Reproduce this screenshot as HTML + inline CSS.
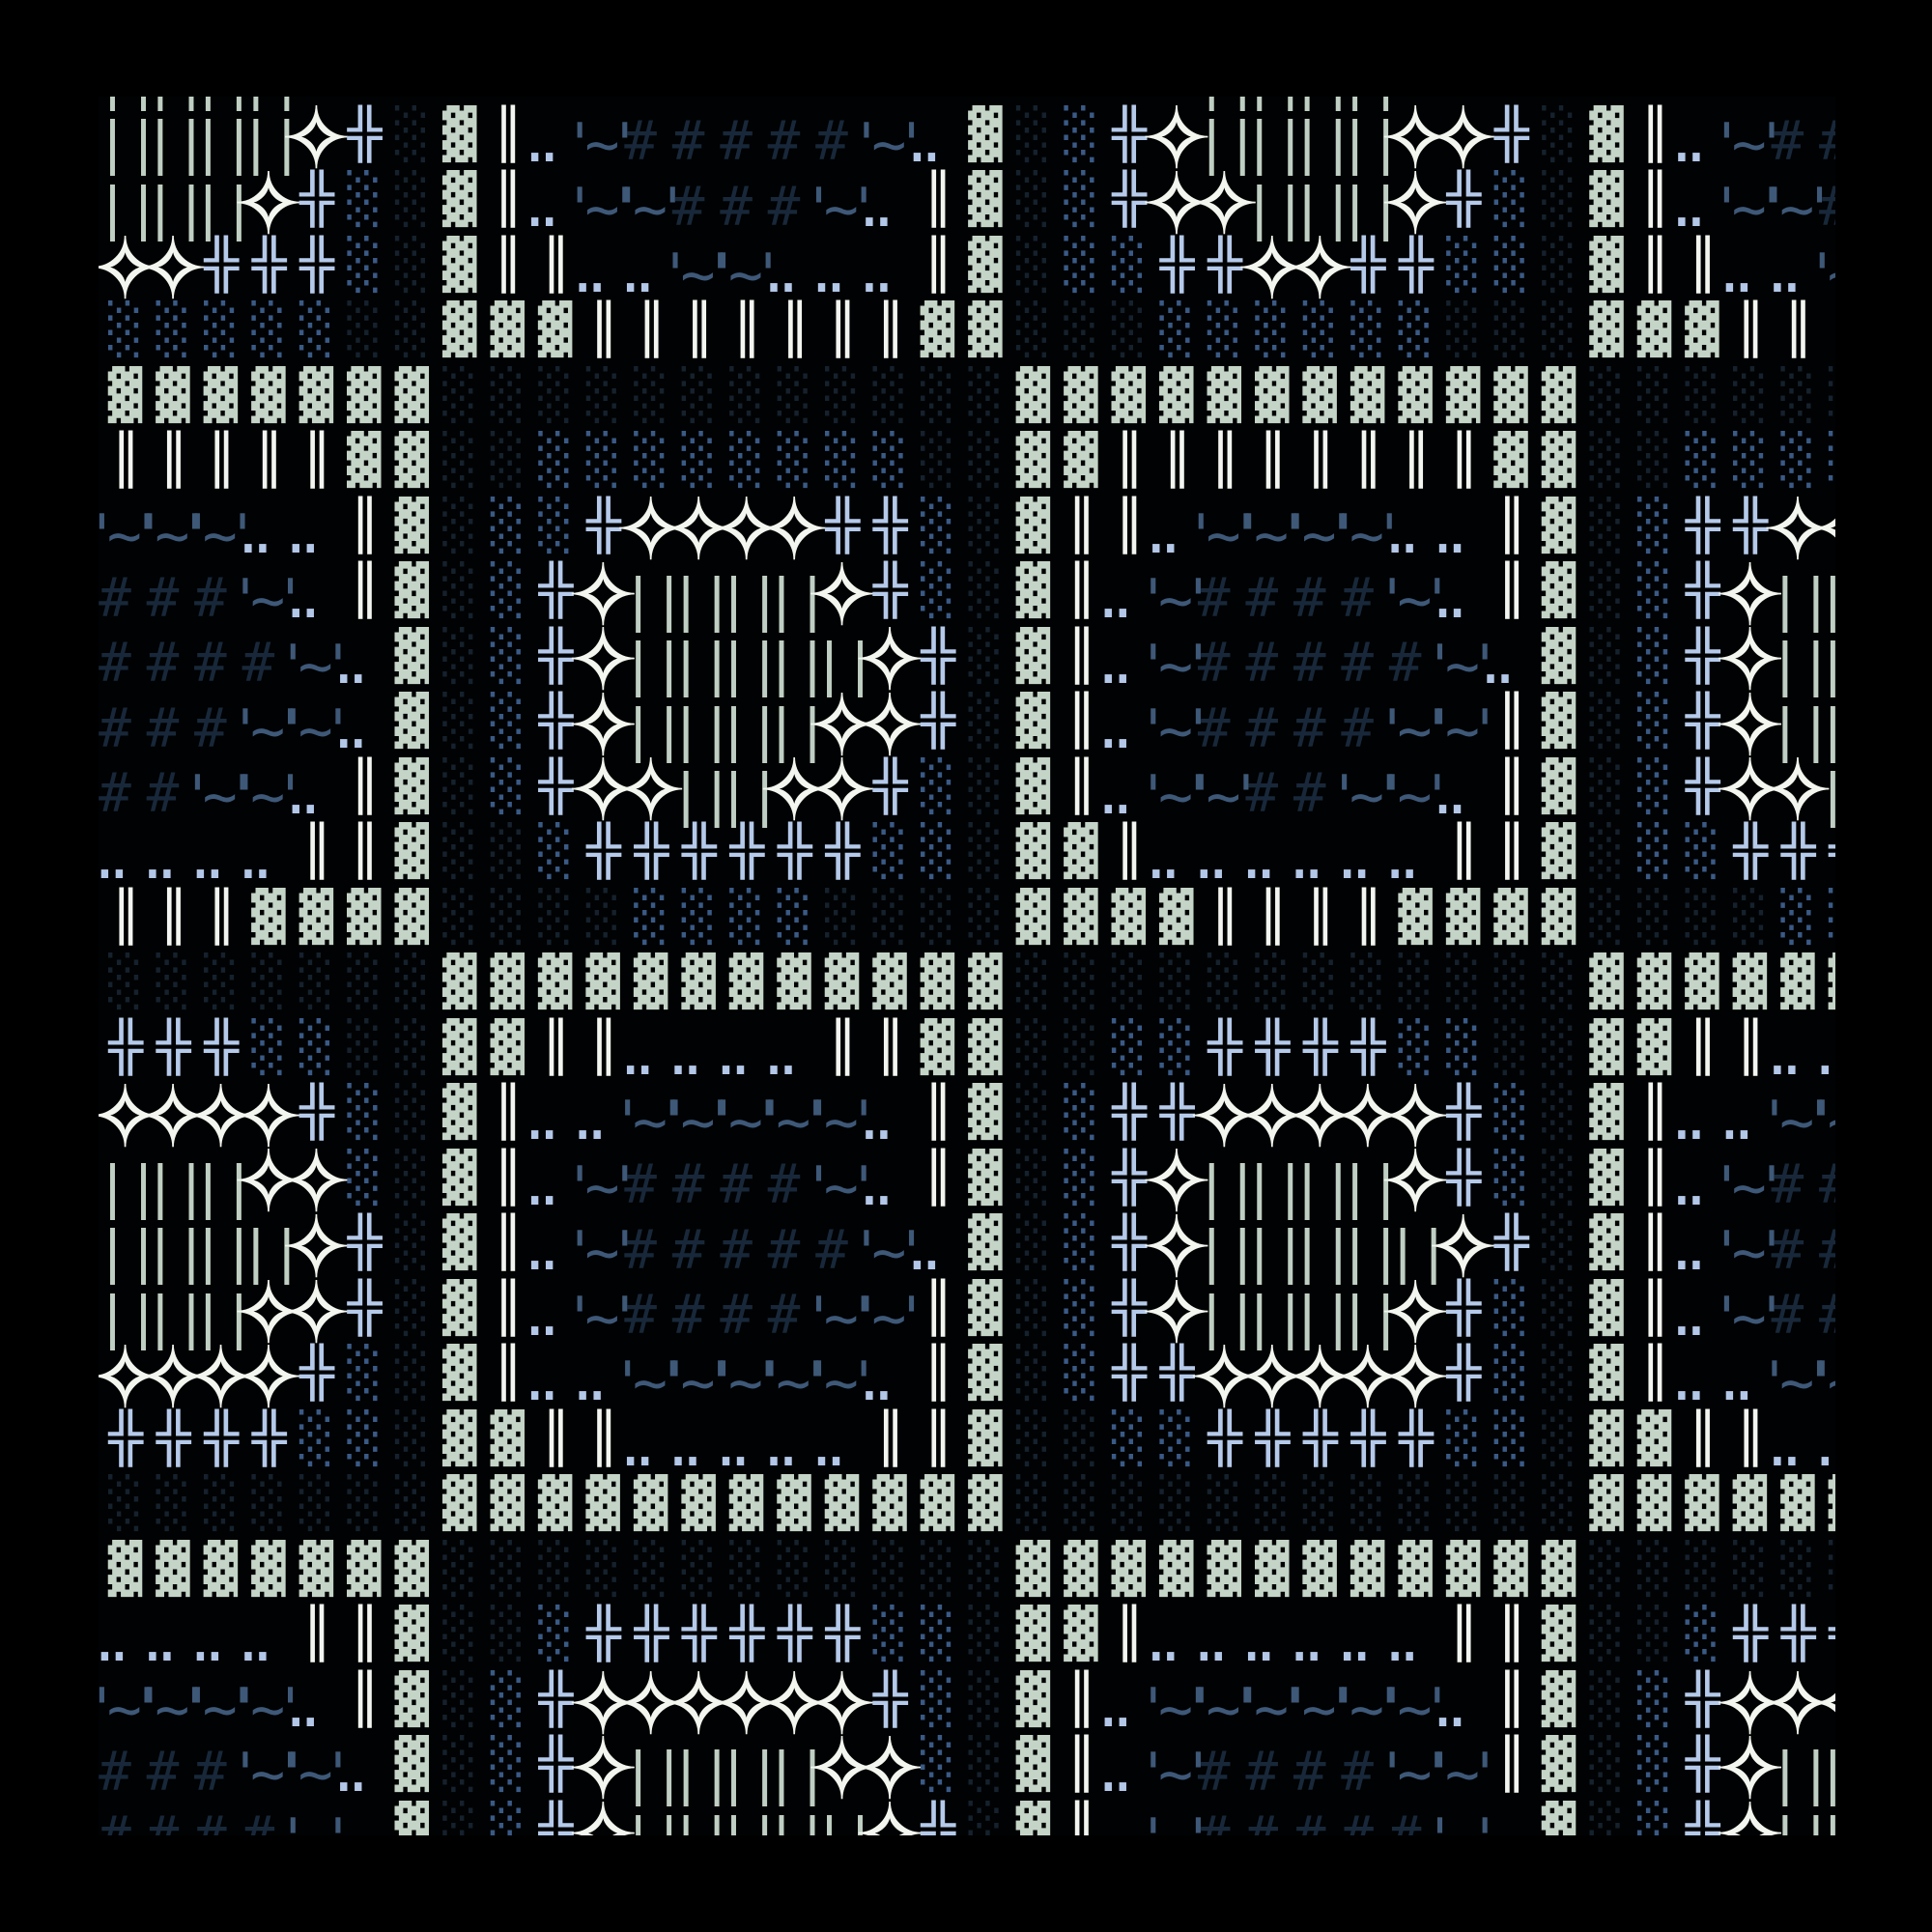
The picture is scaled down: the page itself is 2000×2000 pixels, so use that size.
<!DOCTYPE html>
<html><head><meta charset="utf-8"><style>
html,body{margin:0;padding:0;background:#000;}
body{width:2000px;height:2000px;overflow:hidden;position:relative;}
#w{position:absolute;left:102px;top:100px;width:1798px;height:1800px;overflow:hidden;background:#010203;}
#g{position:absolute;left:0;top:-59.12px;width:1900px;}
.r{height:67.52px;white-space:nowrap;font-size:0;line-height:0;}
.r b{display:inline-block;position:relative;width:49.48px;height:67.52px;vertical-align:top;font-weight:normal;font-family:"DejaVu Sans Mono","DejaVu Sans",monospace;white-space:pre;text-align:left;}
.S,.D,.P,.O,.K{font-size:59px;line-height:59px;top:4.2px;transform:scaleY(0.86);transform-origin:0 0;}
.S{left:9.7px;color:#c4d4c7;}
.D{left:10.5px;color:#f2f5f0;}
.P{left:10.3px;color:#b5caea;}
.O{left:10px;color:#3a5a86;}
.K{left:10px;color:#15212d;}
.I{font-size:59px;line-height:59px;left:-3.3px;top:9.9px;letter-spacing:-3.5px;color:#bfcfc3;}
.R{font-size:86px;line-height:86px;left:-8.5px;top:-7.2px;color:#f3f6ef;-webkit-text-stroke:1.6px #f3f6ef;text-align:center!important;font-family:"DejaVu Sans","DejaVu Sans Mono",sans-serif!important;}
.H{font-size:56px;line-height:56px;left:0.1px;top:10.6px;color:#18283a;}
.T{font-size:60px;line-height:60px;left:-14.6px;top:11.2px;letter-spacing:-12.8px;color:#3e5878;}
.Q{font-size:60px;line-height:60px;left:-11.6px;top:8.2px;letter-spacing:-21.1px;color:#b3c7e8;}
.E{}
</style></head><body>
<div id="w"><div id="g">
<div class="r"><b class=I>||</b><b class=I>||</b><b class=I>||</b><b class=I>||</b><b class=E></b><b class=E></b><b class=E></b><b class=E></b><b class=E></b><b class=Q>..</b><b class=E></b><b class=E></b><b class=E></b><b class=E></b><b class=E></b><b class=E></b><b class=E></b><b class=Q>..</b><b class=E></b><b class=E></b><b class=E></b><b class=E></b><b class=E></b><b class=I>||</b><b class=I>||</b><b class=I>||</b><b class=I>||</b><b class=E></b><b class=E></b><b class=E></b><b class=E></b><b class=E></b><b class=E></b><b class=Q>..</b><b class=E></b><b class=E></b><b class=E></b></div>
<div class="r"><b class=I>||</b><b class=I>||</b><b class=I>||</b><b class=I>||</b><b class=R>✧</b><b class=P>╬</b><b class=K>░</b><b class=S>▓</b><b class=D>║</b><b class=Q>..</b><b class=T>'~'</b><b class=H>#</b><b class=H>#</b><b class=H>#</b><b class=H>#</b><b class=H>#</b><b class=T>'~'</b><b class=Q>..</b><b class=S>▓</b><b class=K>░</b><b class=O>░</b><b class=P>╬</b><b class=R>✧</b><b class=I>||</b><b class=I>||</b><b class=I>||</b><b class=I>||</b><b class=R>✧</b><b class=R>✧</b><b class=P>╬</b><b class=K>░</b><b class=S>▓</b><b class=D>║</b><b class=Q>..</b><b class=T>'~'</b><b class=H>#</b><b class=H>#</b></div>
<div class="r"><b class=I>||</b><b class=I>||</b><b class=I>||</b><b class=R>✧</b><b class=P>╬</b><b class=O>░</b><b class=K>░</b><b class=S>▓</b><b class=D>║</b><b class=Q>..</b><b class=T>'~'</b><b class=T>'~'</b><b class=H>#</b><b class=H>#</b><b class=H>#</b><b class=T>'~'</b><b class=Q>..</b><b class=D>║</b><b class=S>▓</b><b class=K>░</b><b class=O>░</b><b class=P>╬</b><b class=R>✧</b><b class=R>✧</b><b class=I>||</b><b class=I>||</b><b class=I>||</b><b class=R>✧</b><b class=P>╬</b><b class=O>░</b><b class=K>░</b><b class=S>▓</b><b class=D>║</b><b class=Q>..</b><b class=T>'~'</b><b class=T>'~'</b><b class=H>#</b></div>
<div class="r"><b class=R>✧</b><b class=R>✧</b><b class=P>╬</b><b class=P>╬</b><b class=P>╬</b><b class=O>░</b><b class=K>░</b><b class=S>▓</b><b class=D>║</b><b class=D>║</b><b class=Q>..</b><b class=Q>..</b><b class=T>'~'</b><b class=T>'~'</b><b class=Q>..</b><b class=Q>..</b><b class=Q>..</b><b class=D>║</b><b class=S>▓</b><b class=K>░</b><b class=O>░</b><b class=O>░</b><b class=P>╬</b><b class=P>╬</b><b class=R>✧</b><b class=R>✧</b><b class=P>╬</b><b class=P>╬</b><b class=O>░</b><b class=O>░</b><b class=K>░</b><b class=S>▓</b><b class=D>║</b><b class=D>║</b><b class=Q>..</b><b class=Q>..</b><b class=T>'~'</b></div>
<div class="r"><b class=O>░</b><b class=O>░</b><b class=O>░</b><b class=O>░</b><b class=O>░</b><b class=K>░</b><b class=K>░</b><b class=S>▓</b><b class=S>▓</b><b class=S>▓</b><b class=D>║</b><b class=D>║</b><b class=D>║</b><b class=D>║</b><b class=D>║</b><b class=D>║</b><b class=D>║</b><b class=S>▓</b><b class=S>▓</b><b class=K>░</b><b class=K>░</b><b class=K>░</b><b class=O>░</b><b class=O>░</b><b class=O>░</b><b class=O>░</b><b class=O>░</b><b class=O>░</b><b class=K>░</b><b class=K>░</b><b class=K>░</b><b class=S>▓</b><b class=S>▓</b><b class=S>▓</b><b class=D>║</b><b class=D>║</b><b class=E></b></div>
<div class="r"><b class=S>▓</b><b class=S>▓</b><b class=S>▓</b><b class=S>▓</b><b class=S>▓</b><b class=S>▓</b><b class=S>▓</b><b class=K>░</b><b class=K>░</b><b class=K>░</b><b class=K>░</b><b class=K>░</b><b class=K>░</b><b class=K>░</b><b class=K>░</b><b class=K>░</b><b class=K>░</b><b class=K>░</b><b class=K>░</b><b class=S>▓</b><b class=S>▓</b><b class=S>▓</b><b class=S>▓</b><b class=S>▓</b><b class=S>▓</b><b class=S>▓</b><b class=S>▓</b><b class=S>▓</b><b class=S>▓</b><b class=S>▓</b><b class=S>▓</b><b class=K>░</b><b class=K>░</b><b class=K>░</b><b class=K>░</b><b class=K>░</b><b class=K>░</b></div>
<div class="r"><b class=D>║</b><b class=D>║</b><b class=D>║</b><b class=D>║</b><b class=D>║</b><b class=S>▓</b><b class=S>▓</b><b class=K>░</b><b class=K>░</b><b class=O>░</b><b class=O>░</b><b class=O>░</b><b class=O>░</b><b class=O>░</b><b class=O>░</b><b class=O>░</b><b class=O>░</b><b class=K>░</b><b class=K>░</b><b class=S>▓</b><b class=S>▓</b><b class=D>║</b><b class=D>║</b><b class=D>║</b><b class=D>║</b><b class=D>║</b><b class=D>║</b><b class=D>║</b><b class=D>║</b><b class=S>▓</b><b class=S>▓</b><b class=K>░</b><b class=K>░</b><b class=O>░</b><b class=O>░</b><b class=O>░</b><b class=O>░</b></div>
<div class="r"><b class=T>'~'</b><b class=T>'~'</b><b class=T>'~'</b><b class=Q>..</b><b class=Q>..</b><b class=D>║</b><b class=S>▓</b><b class=K>░</b><b class=O>░</b><b class=O>░</b><b class=P>╬</b><b class=R>✧</b><b class=R>✧</b><b class=R>✧</b><b class=R>✧</b><b class=P>╬</b><b class=P>╬</b><b class=O>░</b><b class=K>░</b><b class=S>▓</b><b class=D>║</b><b class=D>║</b><b class=Q>..</b><b class=T>'~'</b><b class=T>'~'</b><b class=T>'~'</b><b class=T>'~'</b><b class=Q>..</b><b class=Q>..</b><b class=D>║</b><b class=S>▓</b><b class=K>░</b><b class=O>░</b><b class=P>╬</b><b class=P>╬</b><b class=R>✧</b><b class=R>✧</b></div>
<div class="r"><b class=H>#</b><b class=H>#</b><b class=H>#</b><b class=T>'~'</b><b class=Q>..</b><b class=D>║</b><b class=S>▓</b><b class=K>░</b><b class=O>░</b><b class=P>╬</b><b class=R>✧</b><b class=I>||</b><b class=I>||</b><b class=I>||</b><b class=I>||</b><b class=R>✧</b><b class=P>╬</b><b class=O>░</b><b class=K>░</b><b class=S>▓</b><b class=D>║</b><b class=Q>..</b><b class=T>'~'</b><b class=H>#</b><b class=H>#</b><b class=H>#</b><b class=H>#</b><b class=T>'~'</b><b class=Q>..</b><b class=D>║</b><b class=S>▓</b><b class=K>░</b><b class=O>░</b><b class=P>╬</b><b class=R>✧</b><b class=I>||</b><b class=I>||</b></div>
<div class="r"><b class=H>#</b><b class=H>#</b><b class=H>#</b><b class=H>#</b><b class=T>'~'</b><b class=Q>..</b><b class=S>▓</b><b class=K>░</b><b class=O>░</b><b class=P>╬</b><b class=R>✧</b><b class=I>||</b><b class=I>||</b><b class=I>||</b><b class=I>||</b><b class=I>||</b><b class=R>✧</b><b class=P>╬</b><b class=K>░</b><b class=S>▓</b><b class=D>║</b><b class=Q>..</b><b class=T>'~'</b><b class=H>#</b><b class=H>#</b><b class=H>#</b><b class=H>#</b><b class=H>#</b><b class=T>'~'</b><b class=Q>..</b><b class=S>▓</b><b class=K>░</b><b class=O>░</b><b class=P>╬</b><b class=R>✧</b><b class=I>||</b><b class=I>||</b></div>
<div class="r"><b class=H>#</b><b class=H>#</b><b class=H>#</b><b class=T>'~'</b><b class=T>'~'</b><b class=Q>..</b><b class=S>▓</b><b class=K>░</b><b class=O>░</b><b class=P>╬</b><b class=R>✧</b><b class=I>||</b><b class=I>||</b><b class=I>||</b><b class=I>||</b><b class=R>✧</b><b class=R>✧</b><b class=P>╬</b><b class=K>░</b><b class=S>▓</b><b class=D>║</b><b class=Q>..</b><b class=T>'~'</b><b class=H>#</b><b class=H>#</b><b class=H>#</b><b class=H>#</b><b class=T>'~'</b><b class=T>'~'</b><b class=D>║</b><b class=S>▓</b><b class=K>░</b><b class=O>░</b><b class=P>╬</b><b class=R>✧</b><b class=I>||</b><b class=I>||</b></div>
<div class="r"><b class=H>#</b><b class=H>#</b><b class=T>'~'</b><b class=T>'~'</b><b class=Q>..</b><b class=D>║</b><b class=S>▓</b><b class=K>░</b><b class=O>░</b><b class=P>╬</b><b class=R>✧</b><b class=R>✧</b><b class=I>||</b><b class=I>||</b><b class=R>✧</b><b class=R>✧</b><b class=P>╬</b><b class=O>░</b><b class=K>░</b><b class=S>▓</b><b class=D>║</b><b class=Q>..</b><b class=T>'~'</b><b class=T>'~'</b><b class=H>#</b><b class=H>#</b><b class=T>'~'</b><b class=T>'~'</b><b class=Q>..</b><b class=D>║</b><b class=S>▓</b><b class=K>░</b><b class=O>░</b><b class=P>╬</b><b class=R>✧</b><b class=R>✧</b><b class=I>||</b></div>
<div class="r"><b class=Q>..</b><b class=Q>..</b><b class=Q>..</b><b class=Q>..</b><b class=D>║</b><b class=D>║</b><b class=S>▓</b><b class=K>░</b><b class=K>░</b><b class=O>░</b><b class=P>╬</b><b class=P>╬</b><b class=P>╬</b><b class=P>╬</b><b class=P>╬</b><b class=P>╬</b><b class=O>░</b><b class=O>░</b><b class=K>░</b><b class=S>▓</b><b class=S>▓</b><b class=D>║</b><b class=Q>..</b><b class=Q>..</b><b class=Q>..</b><b class=Q>..</b><b class=Q>..</b><b class=Q>..</b><b class=D>║</b><b class=D>║</b><b class=S>▓</b><b class=K>░</b><b class=O>░</b><b class=O>░</b><b class=P>╬</b><b class=P>╬</b><b class=P>╬</b></div>
<div class="r"><b class=D>║</b><b class=D>║</b><b class=D>║</b><b class=S>▓</b><b class=S>▓</b><b class=S>▓</b><b class=S>▓</b><b class=K>░</b><b class=K>░</b><b class=K>░</b><b class=K>░</b><b class=O>░</b><b class=O>░</b><b class=O>░</b><b class=O>░</b><b class=K>░</b><b class=K>░</b><b class=K>░</b><b class=K>░</b><b class=S>▓</b><b class=S>▓</b><b class=S>▓</b><b class=S>▓</b><b class=D>║</b><b class=D>║</b><b class=D>║</b><b class=D>║</b><b class=S>▓</b><b class=S>▓</b><b class=S>▓</b><b class=S>▓</b><b class=K>░</b><b class=K>░</b><b class=K>░</b><b class=K>░</b><b class=O>░</b><b class=O>░</b></div>
<div class="r"><b class=K>░</b><b class=K>░</b><b class=K>░</b><b class=K>░</b><b class=K>░</b><b class=K>░</b><b class=K>░</b><b class=S>▓</b><b class=S>▓</b><b class=S>▓</b><b class=S>▓</b><b class=S>▓</b><b class=S>▓</b><b class=S>▓</b><b class=S>▓</b><b class=S>▓</b><b class=S>▓</b><b class=S>▓</b><b class=S>▓</b><b class=K>░</b><b class=K>░</b><b class=K>░</b><b class=K>░</b><b class=K>░</b><b class=K>░</b><b class=K>░</b><b class=K>░</b><b class=K>░</b><b class=K>░</b><b class=K>░</b><b class=K>░</b><b class=S>▓</b><b class=S>▓</b><b class=S>▓</b><b class=S>▓</b><b class=S>▓</b><b class=S>▓</b></div>
<div class="r"><b class=P>╬</b><b class=P>╬</b><b class=P>╬</b><b class=O>░</b><b class=O>░</b><b class=K>░</b><b class=K>░</b><b class=S>▓</b><b class=S>▓</b><b class=D>║</b><b class=D>║</b><b class=Q>..</b><b class=Q>..</b><b class=Q>..</b><b class=Q>..</b><b class=D>║</b><b class=D>║</b><b class=S>▓</b><b class=S>▓</b><b class=K>░</b><b class=K>░</b><b class=O>░</b><b class=O>░</b><b class=P>╬</b><b class=P>╬</b><b class=P>╬</b><b class=P>╬</b><b class=O>░</b><b class=O>░</b><b class=K>░</b><b class=K>░</b><b class=S>▓</b><b class=S>▓</b><b class=D>║</b><b class=D>║</b><b class=Q>..</b><b class=Q>..</b></div>
<div class="r"><b class=R>✧</b><b class=R>✧</b><b class=R>✧</b><b class=R>✧</b><b class=P>╬</b><b class=O>░</b><b class=K>░</b><b class=S>▓</b><b class=D>║</b><b class=Q>..</b><b class=Q>..</b><b class=T>'~'</b><b class=T>'~'</b><b class=T>'~'</b><b class=T>'~'</b><b class=T>'~'</b><b class=Q>..</b><b class=D>║</b><b class=S>▓</b><b class=K>░</b><b class=O>░</b><b class=P>╬</b><b class=P>╬</b><b class=R>✧</b><b class=R>✧</b><b class=R>✧</b><b class=R>✧</b><b class=R>✧</b><b class=P>╬</b><b class=O>░</b><b class=K>░</b><b class=S>▓</b><b class=D>║</b><b class=Q>..</b><b class=Q>..</b><b class=T>'~'</b><b class=T>'~'</b></div>
<div class="r"><b class=I>||</b><b class=I>||</b><b class=I>||</b><b class=R>✧</b><b class=R>✧</b><b class=O>░</b><b class=K>░</b><b class=S>▓</b><b class=D>║</b><b class=Q>..</b><b class=T>'~'</b><b class=H>#</b><b class=H>#</b><b class=H>#</b><b class=H>#</b><b class=T>'~'</b><b class=Q>..</b><b class=D>║</b><b class=S>▓</b><b class=K>░</b><b class=O>░</b><b class=P>╬</b><b class=R>✧</b><b class=I>||</b><b class=I>||</b><b class=I>||</b><b class=I>||</b><b class=R>✧</b><b class=P>╬</b><b class=O>░</b><b class=K>░</b><b class=S>▓</b><b class=D>║</b><b class=Q>..</b><b class=T>'~'</b><b class=H>#</b><b class=H>#</b></div>
<div class="r"><b class=I>||</b><b class=I>||</b><b class=I>||</b><b class=I>||</b><b class=R>✧</b><b class=P>╬</b><b class=K>░</b><b class=S>▓</b><b class=D>║</b><b class=Q>..</b><b class=T>'~'</b><b class=H>#</b><b class=H>#</b><b class=H>#</b><b class=H>#</b><b class=H>#</b><b class=T>'~'</b><b class=Q>..</b><b class=S>▓</b><b class=K>░</b><b class=O>░</b><b class=P>╬</b><b class=R>✧</b><b class=I>||</b><b class=I>||</b><b class=I>||</b><b class=I>||</b><b class=I>||</b><b class=R>✧</b><b class=P>╬</b><b class=K>░</b><b class=S>▓</b><b class=D>║</b><b class=Q>..</b><b class=T>'~'</b><b class=H>#</b><b class=H>#</b></div>
<div class="r"><b class=I>||</b><b class=I>||</b><b class=I>||</b><b class=R>✧</b><b class=R>✧</b><b class=P>╬</b><b class=K>░</b><b class=S>▓</b><b class=D>║</b><b class=Q>..</b><b class=T>'~'</b><b class=H>#</b><b class=H>#</b><b class=H>#</b><b class=H>#</b><b class=T>'~'</b><b class=T>'~'</b><b class=D>║</b><b class=S>▓</b><b class=K>░</b><b class=O>░</b><b class=P>╬</b><b class=R>✧</b><b class=I>||</b><b class=I>||</b><b class=I>||</b><b class=I>||</b><b class=R>✧</b><b class=P>╬</b><b class=O>░</b><b class=K>░</b><b class=S>▓</b><b class=D>║</b><b class=Q>..</b><b class=T>'~'</b><b class=H>#</b><b class=H>#</b></div>
<div class="r"><b class=R>✧</b><b class=R>✧</b><b class=R>✧</b><b class=R>✧</b><b class=P>╬</b><b class=O>░</b><b class=K>░</b><b class=S>▓</b><b class=D>║</b><b class=Q>..</b><b class=Q>..</b><b class=T>'~'</b><b class=T>'~'</b><b class=T>'~'</b><b class=T>'~'</b><b class=T>'~'</b><b class=Q>..</b><b class=D>║</b><b class=S>▓</b><b class=K>░</b><b class=O>░</b><b class=P>╬</b><b class=P>╬</b><b class=R>✧</b><b class=R>✧</b><b class=R>✧</b><b class=R>✧</b><b class=R>✧</b><b class=P>╬</b><b class=O>░</b><b class=K>░</b><b class=S>▓</b><b class=D>║</b><b class=Q>..</b><b class=Q>..</b><b class=T>'~'</b><b class=T>'~'</b></div>
<div class="r"><b class=P>╬</b><b class=P>╬</b><b class=P>╬</b><b class=P>╬</b><b class=O>░</b><b class=O>░</b><b class=K>░</b><b class=S>▓</b><b class=S>▓</b><b class=D>║</b><b class=D>║</b><b class=Q>..</b><b class=Q>..</b><b class=Q>..</b><b class=Q>..</b><b class=Q>..</b><b class=D>║</b><b class=D>║</b><b class=S>▓</b><b class=K>░</b><b class=K>░</b><b class=O>░</b><b class=O>░</b><b class=P>╬</b><b class=P>╬</b><b class=P>╬</b><b class=P>╬</b><b class=P>╬</b><b class=O>░</b><b class=O>░</b><b class=K>░</b><b class=S>▓</b><b class=S>▓</b><b class=D>║</b><b class=D>║</b><b class=Q>..</b><b class=Q>..</b></div>
<div class="r"><b class=K>░</b><b class=K>░</b><b class=K>░</b><b class=K>░</b><b class=K>░</b><b class=K>░</b><b class=K>░</b><b class=S>▓</b><b class=S>▓</b><b class=S>▓</b><b class=S>▓</b><b class=S>▓</b><b class=S>▓</b><b class=S>▓</b><b class=S>▓</b><b class=S>▓</b><b class=S>▓</b><b class=S>▓</b><b class=S>▓</b><b class=K>░</b><b class=K>░</b><b class=K>░</b><b class=K>░</b><b class=K>░</b><b class=K>░</b><b class=K>░</b><b class=K>░</b><b class=K>░</b><b class=K>░</b><b class=K>░</b><b class=K>░</b><b class=S>▓</b><b class=S>▓</b><b class=S>▓</b><b class=S>▓</b><b class=S>▓</b><b class=S>▓</b></div>
<div class="r"><b class=S>▓</b><b class=S>▓</b><b class=S>▓</b><b class=S>▓</b><b class=S>▓</b><b class=S>▓</b><b class=S>▓</b><b class=K>░</b><b class=K>░</b><b class=K>░</b><b class=K>░</b><b class=K>░</b><b class=K>░</b><b class=K>░</b><b class=K>░</b><b class=K>░</b><b class=K>░</b><b class=K>░</b><b class=K>░</b><b class=S>▓</b><b class=S>▓</b><b class=S>▓</b><b class=S>▓</b><b class=S>▓</b><b class=S>▓</b><b class=S>▓</b><b class=S>▓</b><b class=S>▓</b><b class=S>▓</b><b class=S>▓</b><b class=S>▓</b><b class=K>░</b><b class=K>░</b><b class=K>░</b><b class=K>░</b><b class=K>░</b><b class=K>░</b></div>
<div class="r"><b class=Q>..</b><b class=Q>..</b><b class=Q>..</b><b class=Q>..</b><b class=D>║</b><b class=D>║</b><b class=S>▓</b><b class=K>░</b><b class=K>░</b><b class=O>░</b><b class=P>╬</b><b class=P>╬</b><b class=P>╬</b><b class=P>╬</b><b class=P>╬</b><b class=P>╬</b><b class=O>░</b><b class=O>░</b><b class=K>░</b><b class=S>▓</b><b class=S>▓</b><b class=D>║</b><b class=Q>..</b><b class=Q>..</b><b class=Q>..</b><b class=Q>..</b><b class=Q>..</b><b class=Q>..</b><b class=D>║</b><b class=D>║</b><b class=S>▓</b><b class=K>░</b><b class=K>░</b><b class=O>░</b><b class=P>╬</b><b class=P>╬</b><b class=P>╬</b></div>
<div class="r"><b class=T>'~'</b><b class=T>'~'</b><b class=T>'~'</b><b class=T>'~'</b><b class=Q>..</b><b class=D>║</b><b class=S>▓</b><b class=K>░</b><b class=O>░</b><b class=P>╬</b><b class=R>✧</b><b class=R>✧</b><b class=R>✧</b><b class=R>✧</b><b class=R>✧</b><b class=R>✧</b><b class=P>╬</b><b class=O>░</b><b class=K>░</b><b class=S>▓</b><b class=D>║</b><b class=Q>..</b><b class=T>'~'</b><b class=T>'~'</b><b class=T>'~'</b><b class=T>'~'</b><b class=T>'~'</b><b class=T>'~'</b><b class=Q>..</b><b class=D>║</b><b class=S>▓</b><b class=K>░</b><b class=O>░</b><b class=P>╬</b><b class=R>✧</b><b class=R>✧</b><b class=R>✧</b></div>
<div class="r"><b class=H>#</b><b class=H>#</b><b class=H>#</b><b class=T>'~'</b><b class=T>'~'</b><b class=Q>..</b><b class=S>▓</b><b class=K>░</b><b class=O>░</b><b class=P>╬</b><b class=R>✧</b><b class=I>||</b><b class=I>||</b><b class=I>||</b><b class=I>||</b><b class=R>✧</b><b class=R>✧</b><b class=O>░</b><b class=K>░</b><b class=S>▓</b><b class=D>║</b><b class=Q>..</b><b class=T>'~'</b><b class=H>#</b><b class=H>#</b><b class=H>#</b><b class=H>#</b><b class=T>'~'</b><b class=T>'~'</b><b class=D>║</b><b class=S>▓</b><b class=K>░</b><b class=O>░</b><b class=P>╬</b><b class=R>✧</b><b class=I>||</b><b class=I>||</b></div>
<div class="r"><b class=H>#</b><b class=H>#</b><b class=H>#</b><b class=H>#</b><b class=T>'~'</b><b class=Q>..</b><b class=S>▓</b><b class=K>░</b><b class=O>░</b><b class=P>╬</b><b class=R>✧</b><b class=I>||</b><b class=I>||</b><b class=I>||</b><b class=I>||</b><b class=I>||</b><b class=R>✧</b><b class=P>╬</b><b class=K>░</b><b class=S>▓</b><b class=D>║</b><b class=Q>..</b><b class=T>'~'</b><b class=H>#</b><b class=H>#</b><b class=H>#</b><b class=H>#</b><b class=H>#</b><b class=T>'~'</b><b class=Q>..</b><b class=S>▓</b><b class=K>░</b><b class=O>░</b><b class=P>╬</b><b class=R>✧</b><b class=I>||</b><b class=I>||</b></div>
</div></div>
</body></html>
